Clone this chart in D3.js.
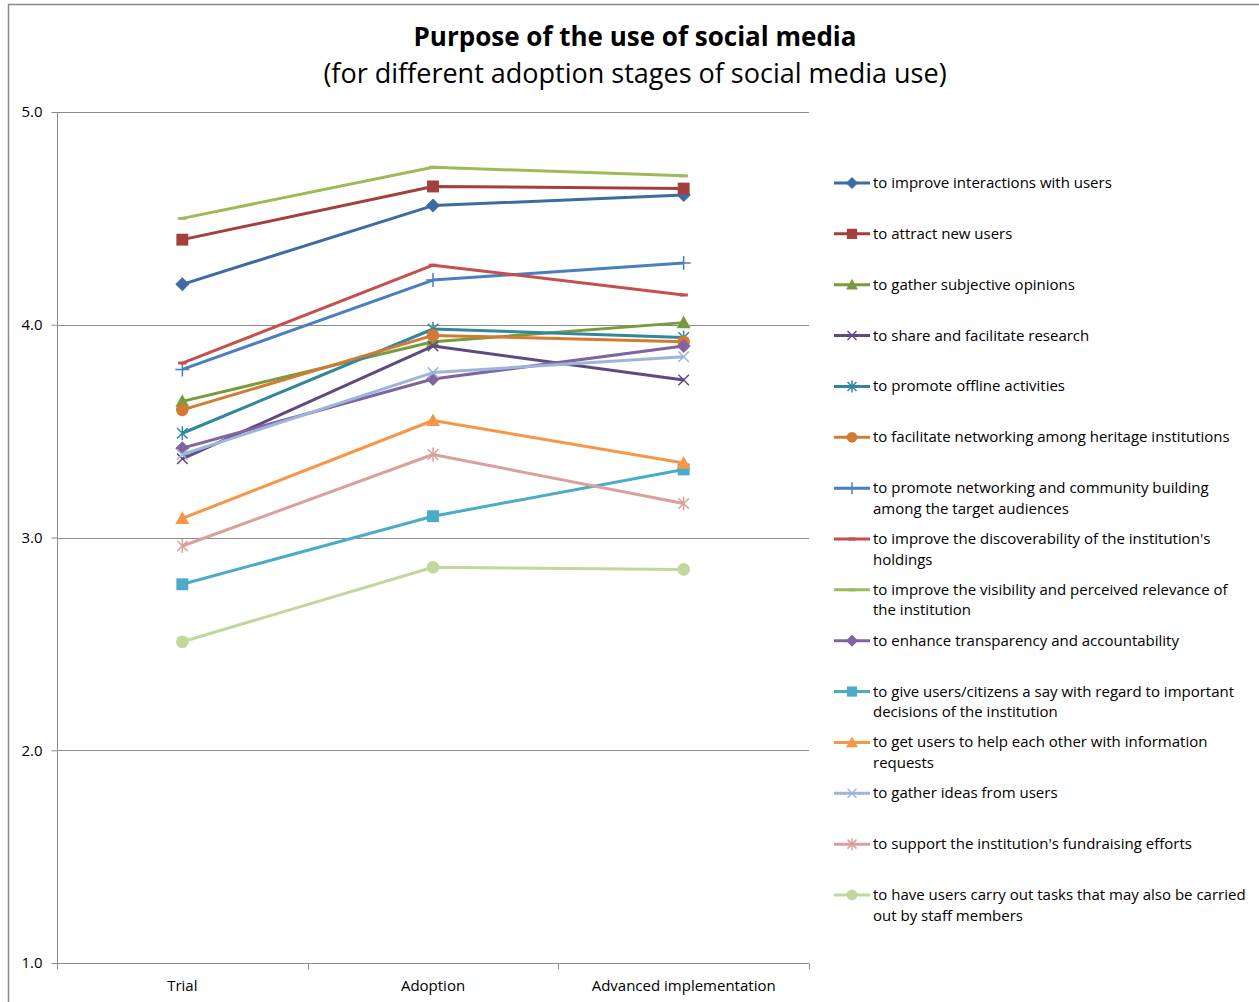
<!DOCTYPE html>
<html>
<head>
<meta charset="utf-8">
<script src="https://cdn.jsdelivr.net/npm/d3@7"></script>
<style>
  body { margin: 0; background: #fff; }
  svg { display: block; font-family: "Open Sans", "Noto Sans", sans-serif; }
</style>
</head>
<body>
<div id="chart"></div>
<script>
// stages on the x axis
let stages = ["Trial", "Adoption", "Advanced implementation"];

// one label per series, same order as the values below
let purposes = [
  "to improve interactions with users",
  "to attract new users",
  "to gather subjective opinions",
  "to share and facilitate research",
  "to promote offline activities",
  "to facilitate networking among heritage institutions",
  "to promote networking and community building among the target audiences",
  "to improve the discoverability of the institution's holdings",
  "to improve the visibility and perceived relevance of the institution",
  "to enhance transparency and accountability",
  "to give users/citizens a say with regard to important decisions of the institution",
  "to get users to help each other with information requests",
  "to gather ideas from users",
  "to support the institution's fundraising efforts",
  "to have users carry out tasks that may also be carried out by staff members"
];

// legend lines as they wrap in the picture
let legendLines = [
  ["to improve interactions with users"],
  ["to attract new users"],
  ["to gather subjective opinions"],
  ["to share and facilitate research"],
  ["to promote offline activities"],
  ["to facilitate networking among heritage institutions"],
  ["to promote networking and community building", "among the target audiences"],
  ["to improve the discoverability of the institution's", "holdings"],
  ["to improve the visibility and perceived relevance of", "the institution"],
  ["to enhance transparency and accountability"],
  ["to give users/citizens a say with regard to important", "decisions of the institution"],
  ["to get users to help each other with information", "requests"],
  ["to gather ideas from users"],
  ["to support the institution's fundraising efforts"],
  ["to have users carry out tasks that may also be carried", "out by staff members"]
];

// mean scores: trial, adoption, advanced implementation
let trialValues    = [4.19, 4.40, 3.64, 3.37, 3.49, 3.60, 3.79, 3.82, 4.50, 3.42, 2.78, 3.09, 3.39, 2.96, 2.51];
let adoptionValues = [4.56, 4.65, 3.92, 3.90, 3.98, 3.95, 4.21, 4.28, 4.74, 3.745, 3.10, 3.55, 3.775, 3.39, 2.86];
let advancedValues = [4.61, 4.64, 4.01, 3.74, 3.94, 3.92, 4.29, 4.14, 4.70, 3.90, 3.32, 3.35, 3.85, 3.16, 2.85];

let yTicks = [1, 2, 3, 4, 5];

let colors = ["#3E6BA3", "#A33F3C", "#7A9A3E", "#5F4A7E", "#32879D", "#D27A32",
              "#4A7EC0", "#C44F4C", "#9BBB59", "#8064A2", "#4BACC6", "#F79646",
              "#9DB5D8", "#D9A09E", "#C3D69B"];
let markers = ["diamond", "square", "triangle", "x", "star", "circle",
               "plus", "dash", "dash", "diamond", "square", "triangle",
               "x", "star", "circle"];

let w = 1259, h = 1002;
let svg = d3.select("#chart").append("svg").attr("width", w).attr("height", h);

// outer chart frame
svg.append("rect").attr("x", 8.5).attr("y", 4.5).attr("width", 1300).attr("height", 1100)
  .attr("fill", "none").attr("stroke", "#8a8a8a").attr("stroke-width", 1.5);

// titles
svg.append("text").attr("x", 635).attr("y", 46).attr("text-anchor", "middle")
  .style("font-size", "26px").style("font-weight", "bold").text("Purpose of the use of social media");
svg.append("text").attr("x", 635).attr("y", 83).attr("text-anchor", "middle")
  .style("font-size", "27px").text("(for different adoption stages of social media use)");

let plotLeft = 57, plotRight = 809, plotTop = 112, plotBottom = 963;

let x = d3.scalePoint().domain(stages).range([plotLeft, plotRight]).padding(0.5);
let xBand = d3.scaleBand().domain(stages).range([plotLeft, plotRight]);
let y = d3.scaleLinear().domain([1, 5]).range([plotBottom, plotTop]);

// gridlines
svg.append("g").selectAll("line").data(yTicks.slice(1)).enter().append("line")
  .attr("x1", plotLeft).attr("x2", plotRight)
  .attr("y1", d => Math.round(y(d)) + 0.5).attr("y2", d => Math.round(y(d)) + 0.5)
  .attr("stroke", "#8c8c8c").attr("stroke-width", 1);

// y axis
let yAxis = d3.axisLeft(y).tickValues(yTicks).tickFormat(d3.format(".1f")).tickSize(6).tickPadding(9);
let yAxisGroup = svg.append("g").attr("transform", "translate(" + (plotLeft + 0.5) + ",0)").call(yAxis);
yAxisGroup.select(".domain").attr("stroke", "#8c8c8c").attr("d", "M0," + plotTop + "V" + plotBottom);
yAxisGroup.selectAll(".tick line").attr("stroke", "#8c8c8c");
yAxisGroup.selectAll("text").style("font-size", "15px").style("font-family", "Open Sans, sans-serif").attr("fill", "#000");

// x axis with ticks between categories
let xAxisGroup = svg.append("g").attr("transform", "translate(0," + (plotBottom + 0.5) + ")");
xAxisGroup.append("line").attr("x1", plotLeft).attr("x2", plotRight).attr("stroke", "#8c8c8c");
let sep = stages.map(s => xBand(s)).concat([plotRight]);
xAxisGroup.selectAll(".sep").data(sep).enter().append("line")
  .attr("x1", d => Math.round(d) + 0.5).attr("x2", d => Math.round(d) + 0.5)
  .attr("y1", 0).attr("y2", 6).attr("stroke", "#8c8c8c");
xAxisGroup.selectAll(".lab").data(stages).enter().append("text")
  .attr("x", d => x(d)).attr("y", 27).attr("text-anchor", "middle")
  .style("font-size", "15px").text(d => d);

// marker drawing
function drawMarker(g, type, color, cx, cy, s) {
  if (type === "diamond") {
    g.append("path").attr("d", `M${cx},${cy - s}L${cx + s},${cy}L${cx},${cy + s}L${cx - s},${cy}Z`).attr("fill", color);
  } else if (type === "square") {
    g.append("rect").attr("x", cx - s * 0.85).attr("y", cy - s * 0.85).attr("width", s * 1.7).attr("height", s * 1.7).attr("fill", color);
  } else if (type === "triangle") {
    g.append("path").attr("d", `M${cx},${cy - s}L${cx + s},${cy + s * 0.8}L${cx - s},${cy + s * 0.8}Z`).attr("fill", color);
  } else if (type === "circle") {
    g.append("circle").attr("cx", cx).attr("cy", cy).attr("r", s * 0.9).attr("fill", color);
  } else if (type === "x") {
    let d = s * 0.75;
    g.append("path").attr("d", `M${cx - d},${cy - d}L${cx + d},${cy + d}M${cx - d},${cy + d}L${cx + d},${cy - d}`)
      .attr("stroke", color).attr("stroke-width", 1.5);
  } else if (type === "star") {
    let d = s * 0.75;
    g.append("path").attr("d", `M${cx - d},${cy - d}L${cx + d},${cy + d}M${cx - d},${cy + d}L${cx + d},${cy - d}M${cx},${cy - s}L${cx},${cy + s}`)
      .attr("stroke", color).attr("stroke-width", 1.5);
  } else if (type === "plus") {
    g.append("path").attr("d", `M${cx - s},${cy}L${cx + s},${cy}M${cx},${cy - s}L${cx},${cy + s}`)
      .attr("stroke", color).attr("stroke-width", 1.5);
  } else if (type === "dash") {
    g.append("path").attr("d", `M${cx - s * 0.6},${cy}L${cx + s * 0.6},${cy}`)
      .attr("stroke", color).attr("stroke-width", 3);
  }
}

let series = purposes.map((p, i) => ({
  name: p,
  values: [trialValues[i], adoptionValues[i], advancedValues[i]],
  color: colors[i],
  marker: markers[i]
}));

let line = d3.line().x((d, j) => x(stages[j])).y(d => y(d));

let plot = svg.append("g");
series.forEach(function(s) {
  let g = plot.append("g");
  g.append("path").datum(s.values).attr("d", line)
    .attr("fill", "none").attr("stroke", s.color).attr("stroke-width", 3)
    .attr("stroke-linejoin", "round");
  s.values.forEach(function(v, j) {
    drawMarker(g, s.marker, s.color, x(stages[j]), y(v), 7);
  });
});

// legend
let legendY = d3.scalePoint().domain(d3.range(purposes.length)).range([183, 895]);
let legend = svg.append("g");
series.forEach(function(s, i) {
  let ly = legendY(i);
  let g = legend.append("g");
  g.append("line").attr("x1", 834).attr("x2", 870).attr("y1", ly).attr("y2", ly)
    .attr("stroke", s.color).attr("stroke-width", 3);
  drawMarker(g, s.marker, s.color, 852, ly, 6);
  let t = g.append("text").attr("x", 873).attr("y", ly + 5).style("font-size", "15px");
  legendLines[i].forEach(function(l, k) {
    t.append("tspan").attr("x", 873).attr("dy", k === 0 ? 0 : 20.5).text(l);
  });
});
</script>
</body>
</html>
